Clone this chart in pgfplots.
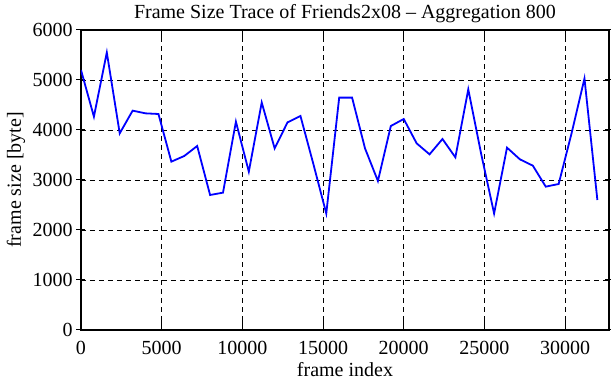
\documentclass[border=0pt]{standalone}
\usepackage{pgfplots}
\pgfplotsset{compat=1.18}
\usepackage{fontspec}
\setmainfont{Liberation Serif}
\begin{document}
\fontsize{20}{23}\selectfont
\begin{tikzpicture}
\begin{axis}[
  at={(0,0)}, anchor=south west,
  scale only axis, width=528pt, height=300pt,
  xmin=0, xmax=32720, ymin=0, ymax=6000,
  xtick={0,5000,...,30000}, ytick={0,1000,...,6000},
  scaled ticks=false,
  /pgf/number format/assume math mode=true,
  xticklabel={\pgfmathprintnumber[fixed,1000 sep={}]{\tick}},
  yticklabel={\pgfmathprintnumber[fixed,1000 sep={}]{\tick}},
  xtick align=inside, ytick align=center, major tick length=9pt,
  xtick style={black, line width=1pt},
  ytick style={black, line width=1pt},
  axis line style={black, line width=1.2pt},
  grid=major, major grid style={black, line width=0.8pt, dash pattern=on 5pt off 4pt},
  title={Frame Size Trace of Friends2x08 -- Aggregation 800},
  title style={yshift=-6pt},
  xlabel={frame index}, ylabel={frame size [byte]},
  xlabel style={yshift=5pt}, ylabel style={yshift=-6pt},
  xticklabel style={yshift=-4pt},
  yticklabel style={xshift=3pt},
]
\addplot[blue, line width=1.8pt, line join=miter] table {
x y
0 5200
800 4267
1600 5550
2400 3933
3200 4387
4000 4333
4800 4320
5600 3367
6400 3480
7200 3680
8000 2700
8800 2747
9600 4167
10400 3167
11200 4550
12000 3633
12800 4153
13600 4280
14400 3320
15200 2330
16000 4647
16800 4647
17600 3633
18400 2980
19200 4080
20000 4220
20800 3733
21600 3513
22400 3820
23200 3453
24000 4813
24800 3520
25600 2330
26400 3647
27200 3413
28000 3287
28800 2867
29600 2920
30400 3933
31200 5030
32000 2600
};
\end{axis}
\pgfresetboundingbox
\path (-81pt,-50pt) rectangle (530pt,300pt+30pt);
\end{tikzpicture}
\end{document}
